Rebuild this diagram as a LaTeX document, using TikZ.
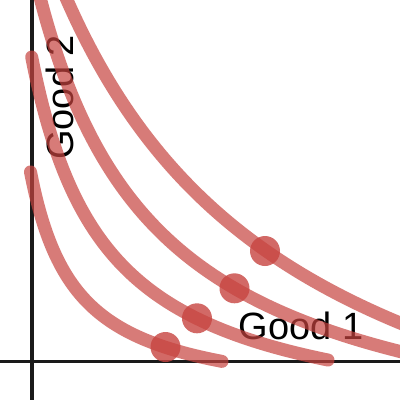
\documentclass[tikz,border=0pt]{standalone}
\usepackage{fontspec}
\newfontfamily\labfont{Liberation Sans}
\definecolor{dred}{HTML}{C74440}
\definecolor{axisc}{HTML}{1A1A1A}
\begin{document}
\begin{tikzpicture}[x=1pt,y=-1pt,
  ic/.style={draw=dred, line width=13pt, draw opacity=0.7, line cap=round},
  dotnode/.style={circle, fill=dred, fill opacity=0.8, minimum size=30pt, inner sep=0pt, draw=none},
  lab/.style={font=\labfont\fontsize{38}{40}\selectfont, inner sep=0pt, text=black},
  axisline/.style={draw=axisc, line width=3.3pt}]
\useasboundingbox (0,0) rectangle (400,400);
\fill[white] (0,0) rectangle (400,400);
\clip (0,0) rectangle (400,400);
% axes
\draw[axisline] (32,0) -- (32,400);
\draw[axisline] (0,361.5) -- (400,361.5);
% labels
\node[lab, anchor=base west] (g1) at (238.5,339) {Good 1};
\node[lab, anchor=base west, rotate=90] (g2) at (73.5,160) {Good 2};
% indifference curves
\draw[ic] plot[domain=-1.5:190, samples=150] ({32+\x},{361.5-((106.71/(\x+47))*100-44.9)});
\draw[ic] plot[domain=-0.3:296, samples=150] ({32+\x},{361.5-((281.14/(\x+74.5))*100-74.4)});
\draw[ic] plot[domain=5:380, samples=150] ({32+\x},{361.5-((586.87/(\x+115.4))*100-111.4)});
\draw[ic] plot[domain=30:380, samples=150] ({32+\x},{361.5-((1400.72/(\x+213.4))*100-202.4)});
% points
\node[dotnode] (p1) at (165.5,347) {};
\node[dotnode] (p2) at (197,318.3) {};
\node[dotnode] (p3) at (234.5,288.3) {};
\node[dotnode] (p4) at (265,251) {};
\end{tikzpicture}
\end{document}
